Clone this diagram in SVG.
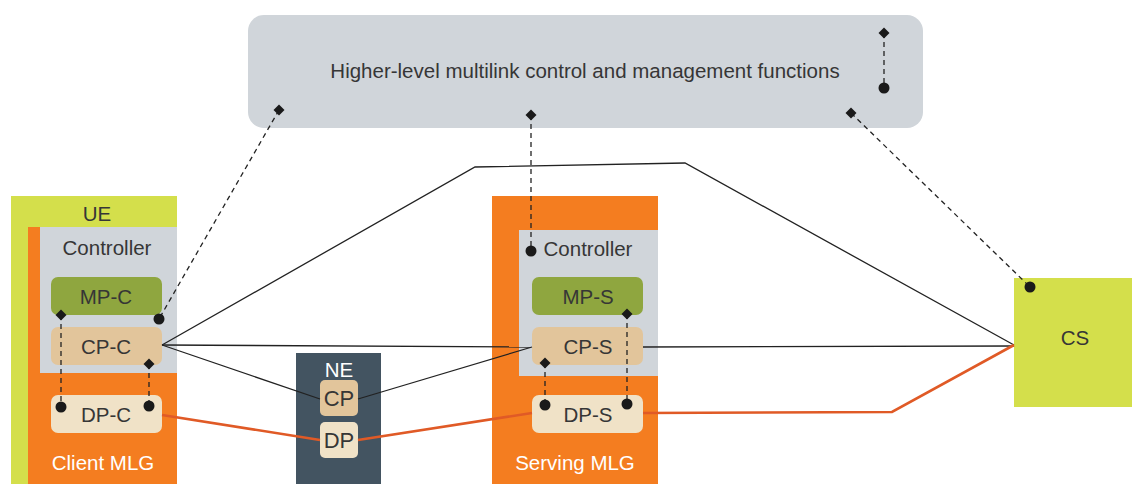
<svg xmlns="http://www.w3.org/2000/svg" width="1132" height="484" viewBox="0 0 1132 484">
  <style>
    text { font-family: "Liberation Sans", Arial, sans-serif; font-size: 20.5px; text-anchor: middle; dominant-baseline: central; fill: #363636; }
    .light { fill: #fff; }
    .big { font-size: 22px; }
    .grey { fill: #d0d5da; }
    .lime { fill: #d4df4b; }
    .orange { fill: #f47d20; }
    .mp { fill: #8fa63f; }
    .cp { fill: #e2c59b; }
    .dp { fill: #f0e2c7; }
    .ne { fill: #435461; }
    .ctl { fill: none; stroke: #222; stroke-width: 1.3; }
    .data { fill: none; stroke: #e05a26; stroke-width: 2.6; }
    .mgmt { fill: none; stroke: #222; stroke-width: 1.3; stroke-dasharray: 5 4; }
    .dot { fill: #1a1a1a; }
  </style>
  <defs>
    <path id="dia" d="M0,-5.5 L5.5,0 L0,5.5 L-5.5,0 Z" fill="#1a1a1a"/>
  </defs>

  <!-- management plane -->
  <g id="mgmt-functions">
    <rect class="grey" x="248" y="15" width="675" height="113" rx="16"/>
    <text x="585" y="70">Higher-level multilink control and management functions</text>
  </g>

  <!-- user equipment with client MLG -->
  <g id="ue">
    <rect class="lime" x="11" y="196" width="166" height="288"/>
    <text x="97" y="213">UE</text>
  </g>
  <g id="client-mlg">
    <rect class="orange" x="28" y="227" width="149" height="257"/>
    <text class="light" x="103" y="462">Client MLG</text>
  </g>
  <g id="client-controller">
    <rect class="grey" x="40" y="227" width="137" height="146"/>
    <text x="107" y="247">Controller</text>
  </g>
  <g id="mp-c">
    <rect class="mp" x="51" y="277" width="111" height="38" rx="7"/>
    <text x="106" y="296">MP-C</text>
  </g>
  <g id="cp-c">
    <rect class="cp" x="51" y="327" width="111" height="38" rx="7"/>
    <text x="106" y="346">CP-C</text>
  </g>
  <g id="dp-c">
    <rect class="dp" x="51" y="395" width="111" height="38" rx="7"/>
    <text x="106" y="414">DP-C</text>
  </g>

  <!-- serving MLG -->
  <g id="serving-mlg">
    <rect class="orange" x="492" y="196" width="166" height="288"/>
    <text class="light" x="575" y="462">Serving MLG</text>
  </g>
  <g id="serving-controller">
    <rect class="grey" x="519" y="230" width="139" height="146"/>
    <text x="588" y="248">Controller</text>
  </g>
  <g id="mp-s">
    <rect class="mp" x="532" y="277" width="111" height="38" rx="7"/>
    <text x="588" y="296">MP-S</text>
  </g>
  <g id="cp-s">
    <rect class="cp" x="532" y="327" width="111" height="38" rx="7"/>
    <text x="588" y="346">CP-S</text>
  </g>
  <g id="dp-s">
    <rect class="dp" x="532" y="395" width="111" height="38" rx="7"/>
    <text x="588" y="414">DP-S</text>
  </g>

  <!-- network element -->
  <g id="ne">
    <rect class="ne" x="296" y="353" width="85" height="131"/>
    <text class="light" x="339" y="369">NE</text>
  </g>
  <g id="ne-cp">
    <rect class="cp" x="320" y="380" width="38" height="36" rx="5"/>
    <text class="big" x="339" y="398">CP</text>
  </g>
  <g id="ne-dp">
    <rect class="dp" x="320" y="422" width="38" height="36" rx="5"/>
    <text class="big" x="339" y="440">DP</text>
  </g>

  <!-- CS -->
  <g id="cs">
    <rect class="lime" x="1014" y="278" width="118" height="129"/>
    <text x="1075" y="337">CS</text>
  </g>

  <g id="connectors">
    <!-- control plane links -->
    <polyline class="ctl" points="162,345 475,167 685,163 1014,345"/>
    <line class="ctl" x1="162" y1="345" x2="531" y2="347"/>
    <line class="ctl" x1="162" y1="345" x2="320" y2="399"/>
    <line class="ctl" x1="358" y1="399" x2="532" y2="347"/>
    <line class="ctl" x1="643" y1="347" x2="1014" y2="346"/>
    <!-- data plane links -->
    <line class="data" x1="162" y1="415" x2="320" y2="440"/>
    <line class="data" x1="358" y1="440" x2="532" y2="413"/>
    <polyline class="data" points="643,413 892,412 1014,345"/>
    <!-- management links -->
    <line class="mgmt" x1="279" y1="110" x2="159" y2="319"/>
    <line class="mgmt" x1="531" y1="115" x2="531" y2="251"/>
    <line class="mgmt" x1="851" y1="113" x2="1030" y2="287"/>
    <line class="mgmt" x1="884" y1="33" x2="884" y2="88"/>
    <line class="mgmt" x1="61" y1="315" x2="61" y2="407"/>
    <line class="mgmt" x1="149" y1="364" x2="149" y2="406"/>
    <line class="mgmt" x1="545" y1="363" x2="545" y2="405"/>
    <line class="mgmt" x1="627" y1="314" x2="627" y2="404"/>
    <!-- endpoints -->
    <use href="#dia" x="279" y="110"/>
    <use href="#dia" x="531" y="115"/>
    <use href="#dia" x="851" y="113"/>
    <use href="#dia" x="884" y="33"/>
    <use href="#dia" x="61" y="315"/>
    <use href="#dia" x="149" y="364"/>
    <use href="#dia" x="545" y="363"/>
    <use href="#dia" x="627" y="314"/>
    <circle class="dot" cx="159" cy="319" r="5.5"/>
    <circle class="dot" cx="531" cy="251" r="5.5"/>
    <circle class="dot" cx="1030" cy="287" r="5.5"/>
    <circle class="dot" cx="884" cy="88" r="5.5"/>
    <circle class="dot" cx="61" cy="407" r="5.5"/>
    <circle class="dot" cx="149" cy="406" r="5.5"/>
    <circle class="dot" cx="545" cy="405" r="5.5"/>
    <circle class="dot" cx="627" cy="404" r="5.5"/>
  </g>
</svg>
